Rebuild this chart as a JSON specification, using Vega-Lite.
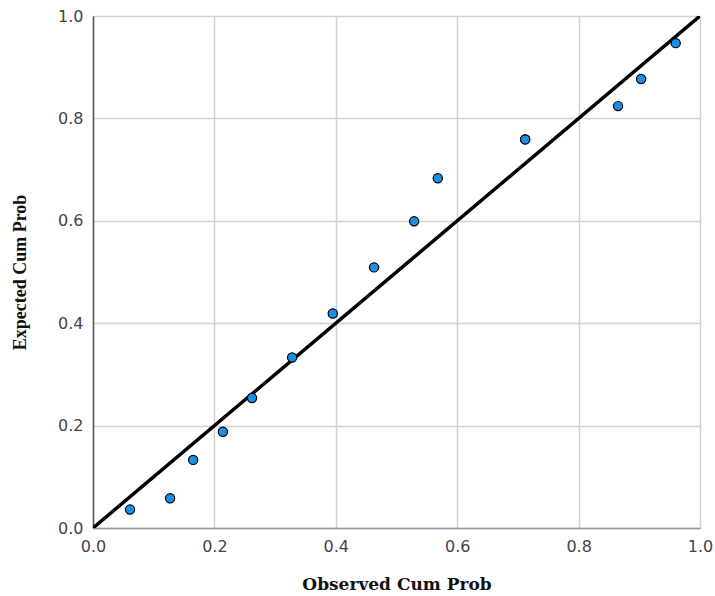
{
  "$schema": "https://vega.github.io/schema/vega-lite/v6.json",
  "width": 607,
  "height": 512,
  "autosize": "none",
  "padding": {"left": 93, "top": 16, "right": 15, "bottom": 68},
  "background": "white",
  "config": {"view": {"stroke": null}},
  "datasets": {
    "pts": [
      {"observed": 0.061, "expected": 0.036},
      {"observed": 0.127, "expected": 0.058},
      {"observed": 0.165, "expected": 0.133},
      {"observed": 0.214, "expected": 0.188},
      {"observed": 0.262, "expected": 0.254},
      {"observed": 0.328, "expected": 0.333},
      {"observed": 0.395, "expected": 0.419},
      {"observed": 0.463, "expected": 0.509},
      {"observed": 0.529, "expected": 0.599},
      {"observed": 0.568, "expected": 0.683},
      {"observed": 0.712, "expected": 0.759},
      {"observed": 0.712, "expected": 0.759},
      {"observed": 0.865, "expected": 0.824},
      {"observed": 0.903, "expected": 0.877},
      {"observed": 0.960, "expected": 0.947}
    ],
    "diag": [
      {"observed": 0, "expected": 0},
      {"observed": 1, "expected": 1}
    ]
  },
  "layer": [
    {
      "data": {"name": "diag"},
      "mark": {"type": "line", "color": "black", "strokeWidth": 3.5, "clip": true},
      "encoding": {
        "x": {
          "field": "observed", "type": "quantitative",
          "scale": {"domain": [0, 1], "nice": false, "zero": false},
          "axis": {
            "title": "Observed Cum Prob",
            "values": [0, 0.2, 0.4, 0.6, 0.8, 1.0],
            "format": ".1f",
            "grid": true, "gridColor": "#d0d0d0", "gridWidth": 1.5,
            "ticks": false, "labelPadding": 10,
            "labelFont": "DejaVu Sans", "labelFontSize": 16, "labelColor": "#444",
            "domainColor": "#999", "domainWidth": 1.5,
            "titleFont": "DejaVu Serif", "titleFontWeight": "bold", "titleFontSize": 17,
            "titleColor": "#111", "titlePadding": 22,
            "labelFlush": false
          }
        },
        "y": {
          "field": "expected", "type": "quantitative",
          "scale": {"domain": [0, 1], "nice": false, "zero": false},
          "axis": {
            "title": "Expected Cum Prob",
            "values": [0, 0.2, 0.4, 0.6, 0.8, 1.0],
            "format": ".1f",
            "grid": true, "gridColor": "#d0d0d0", "gridWidth": 1.5,
            "ticks": false, "labelPadding": 10,
            "labelFont": "DejaVu Sans", "labelFontSize": 16, "labelColor": "#444",
            "domainColor": "#555", "domainWidth": 1.5,
            "titleFont": "Liberation Serif", "titleFontWeight": "bold", "titleFontSize": 18,
            "titleColor": "#111", "titlePadding": 28,
            "labelFlush": false
          }
        }
      }
    },
    {
      "data": {"name": "pts"},
      "mark": {"type": "point", "shape": "circle", "filled": true, "fill": "#1a8fe6", "stroke": "black", "strokeWidth": 1.2, "size": 85, "opacity": 1},
      "encoding": {
        "x": {"field": "observed", "type": "quantitative"},
        "y": {"field": "expected", "type": "quantitative"}
      }
    }
  ]
}
